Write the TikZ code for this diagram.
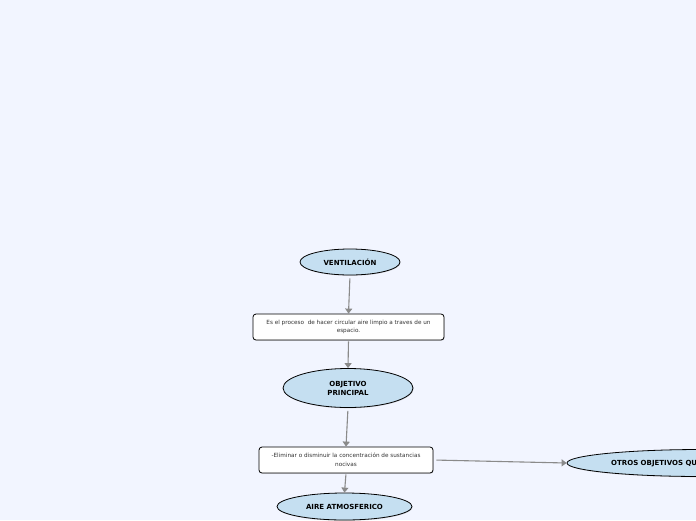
\documentclass[tikz,border=0pt]{standalone}
\usepackage{fontspec}
\setmainfont{DejaVu Sans}
\usetikzlibrary{shapes.geometric,arrows.meta,shadows}
\definecolor{bg}{HTML}{F2F5FF}
\definecolor{ellfill}{HTML}{C5DFF1}
\definecolor{linegray}{HTML}{8A8A8A}
\tikzset{
  oval/.style={ellipse, draw=black, line width=0.8pt, fill=ellfill, inner sep=0pt,
    font=\fontsize{7}{9}\selectfont\bfseries, align=center,
    drop shadow={shadow xshift=0.6pt, shadow yshift=-0.8pt, opacity=0.25}},
  textbox/.style={rectangle, rounded corners=3pt, draw=black, line width=0.8pt, fill=white, inner sep=0pt,
    font=\fontsize{5.7}{8.5}\selectfont, align=center, text=black!80,
    drop shadow={shadow xshift=0.6pt, shadow yshift=-0.8pt, opacity=0.25}},
  conn/.style={draw=linegray, line width=1.1pt, -{Triangle[length=5pt,width=7pt]}}
}
\begin{document}
\begin{tikzpicture}[x=1pt,y=-1pt]
\fill[bg] (0,0) rectangle (696,520);
\useasboundingbox (0,0) rectangle (696,520);
\clip (0,0) rectangle (696,520);

\node[oval, minimum width=100pt, minimum height=26pt] (vent) at (350,262) {VENTILACIÓN};
\node[textbox, minimum width=191pt, minimum height=26pt] (def) at (348.5,327)
  {Es el proceso\ \ de hacer circular aire limpio a traves de un\\espacio.};
\node[oval, minimum width=130pt, minimum height=39pt] (obj) at (348,388) {OBJETIVO\\PRINCIPAL};
\node[textbox, minimum width=174pt, minimum height=26pt] (elim) at (346,460)
  {-Eliminar o disminuir la concentración de sustancias\\nocivas};
\node[oval, minimum width=135pt, minimum height=27pt] (aire) at (344.5,506.5) {AIRE ATMOSFERICO};
\node[oval, minimum width=270pt, minimum height=27pt] (otros) at (702,463) {};
\node[anchor=west, font=\fontsize{7}{9}\selectfont\bfseries, inner sep=0pt] (otrostxt) at (611,464) {OTROS OBJETIVOS QU};

\draw[conn, shorten <=3pt] (vent.south) -- (def.north);
\draw[conn, shorten <=1pt] (def.south) -- (obj.north);
\draw[conn, shorten <=3pt] (obj.south) -- (elim.north);
\draw[conn, shorten <=1pt] (elim.south) -- (aire.north);
\draw[conn, shorten <=3pt] (elim.east) -- (otros.west);
\end{tikzpicture}
\end{document}
